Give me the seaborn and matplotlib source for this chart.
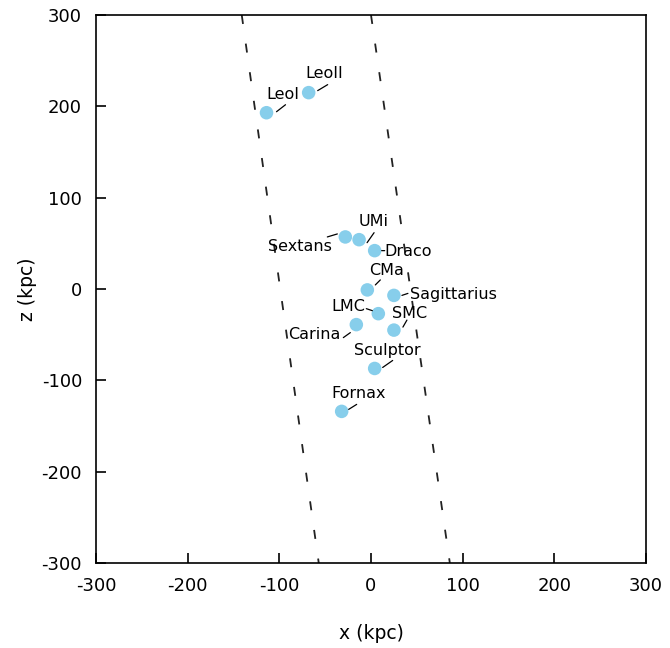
import matplotlib
matplotlib.use("Agg")
import matplotlib.pyplot as plt
from matplotlib.transforms import offset_copy
import pandas as pd
import seaborn as sns

# satellite positions (kpc)
names = ["LeoI", "LeoII", "Sextans", "UMi", "Draco", "CMa", "Sagittarius",
         "LMC", "SMC", "Carina", "Sculptor", "Fornax"]
x_kpc = [-114, -68, -28, -13, 4, -4, 25, 8, 25, -16, 4, -32]
z_kpc = [193, 215, 57, 54, 42, -1, -7, -27, -45, -39, -87, -134]

# dashed boundary lines: x at z = +300 and z = -300
line_z = [300, -300]
left_x = [-141, -57]
right_x = [0, 86]

# label placement in pixels (right, up) from each point:
# text centre, leader start, leader end
label_layout = {
    "LeoI":        ((16, 18), (10, 1), (19, 8)),
    "LeoII":       ((16, 19), (9, 2), (19, 8)),
    "Sextans":     ((-45, -10), (-8, 3), (-18, 0)),
    "UMi":         ((15, 18), (8, -3), (15, 7)),
    "Draco":       ((33, -1), (7, 0), (10, 0)),
    "CMa":         ((19, 19), (8, 5), (13, 10)),
    "Sagittarius": ((60, 1), (8, 0), (14, 2)),
    "LMC":         ((-30, 7), (-6, 3), (-12, 5)),
    "SMC":         ((16, 17), (9, 3), (13, 10)),
    "Carina":      ((-42, -10), (-6, -8), (-13, -13)),
    "Sculptor":    ((13, 18), (8, 1), (18, 8)),
    "Fornax":      ((17, 18), (7, 2), (15, 7)),
}

df = pd.DataFrame({"name": names, "x": x_kpc, "z": z_kpc})

sns.set_style("ticks")
plt.rcParams["font.family"] = ["DejaVu Sans"]
plt.rcParams["axes.unicode_minus"] = False

fig = plt.figure(figsize=(6.7, 6.48), dpi=100)
ax = fig.add_axes([96 / 670, 1 - 563 / 648, 550 / 670, 548 / 648])

for xs in (left_x, right_x):
    sns.lineplot(x=xs, y=line_z, ax=ax, color="#222222", lw=1.3,
                 sort=False, estimator=None, linestyle=(0, (5, 11)))

sns.scatterplot(data=df, x="x", y="z", ax=ax, s=95, color="#87ceeb",
                edgecolor="none", zorder=3)

for _, row in df.iterrows():
    (tx, ty), (ax0, ay0), (ax1, ay1) = label_layout[row["name"]]
    p = (row["x"], row["z"])
    ax.annotate(row["name"], xy=p, xytext=(tx, ty),
                textcoords="offset pixels", ha="center", va="center",
                fontsize=11.5, color="black")
    ax.annotate("", xy=p,
                xycoords=offset_copy(ax.transData, fig=fig, x=ax0, y=ay0, units="dots"),
                xytext=p,
                textcoords=offset_copy(ax.transData, fig=fig, x=ax1, y=ay1, units="dots"),
                arrowprops=dict(arrowstyle="-", color="black", lw=0.9,
                                shrinkA=0, shrinkB=0))

ax.set_xlim(-300, 300)
ax.set_ylim(-300, 300)
ax.set_xticks(range(-300, 301, 100))
ax.set_yticks(range(-300, 301, 100))
ax.set_xlabel("x (kpc)", fontsize=13.5, labelpad=21, color="black")
ax.set_ylabel("z (kpc)", fontsize=13.5, labelpad=3, color="black")
ax.tick_params(axis="both", direction="in", length=7, width=1.2,
               labelsize=13, pad=10, top=False, right=False,
               colors="black")
for sp in ax.spines.values():
    sp.set_visible(True)
    sp.set_color("black")
    sp.set_linewidth(1.2)

fig.savefig("out.png", dpi=100)
